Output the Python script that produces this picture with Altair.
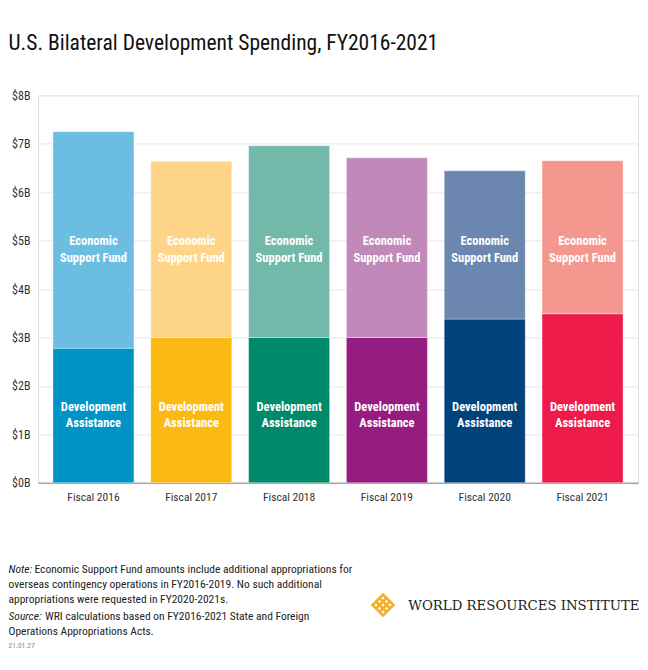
import altair as alt
import pandas as pd

# ---- data ----
years = ["Fiscal 2016", "Fiscal 2017", "Fiscal 2018", "Fiscal 2019", "Fiscal 2020", "Fiscal 2021"]
dev_assistance = [2.78, 3.00, 3.00, 3.00, 3.38, 3.49]
econ_support = [4.47, 3.64, 3.96, 3.71, 3.06, 3.16]
segments = ["Development Assistance", "Economic Support Fund"]
seg_labels = ["Development\nAssistance", "Economic\nSupport Fund"]
y_ticks = [0, 1, 2, 3, 4, 5, 6, 7, 8]

title_text = "U.S. Bilateral Development Spending, FY2016-2021"
note_lines = [
    "Economic Support Fund amounts include additional appropriations for",
    "overseas contingency operations in FY2016-2019. No such additional",
    "appropriations were requested in FY2020-2021s.",
]
source_lines = [
    "WRI calculations based on FY2016-2021 State and Foreign",
    "Operations Appropriations Acts.",
]
date_text = "21.01.27"
org_text = "WORLD RESOURCES INSTITUTE"

# colours: (DA, ESF) per year
da_colors = ["#0093C6", "#FDB913", "#00896A", "#951C80", "#00427A", "#EE1A4A"]
esf_colors = ["#6BBDE1", "#FED588", "#73B9AA", "#C189BA", "#6B87B0", "#F4978F"]

rows = []
for i, y in enumerate(years):
    rows.append({"year": y, "segment": segments[0], "label": seg_labels[0],
                 "y0": 0.0, "y1": dev_assistance[i], "key": y + "|DA"})
    rows.append({"year": y, "segment": segments[1], "label": seg_labels[1],
                 "y0": dev_assistance[i], "y1": dev_assistance[i] + econ_support[i], "key": y + "|ESF"})
df = pd.DataFrame(rows)

keys = []
cols = []
for i, y in enumerate(years):
    keys += [y + "|DA", y + "|ESF"]
    cols += [da_colors[i], esf_colors[i]]

FONT = "Roboto Condensed, Roboto, sans-serif"
W, H = 600, 387.5

xscale = alt.Scale(domain=years, paddingInner=0.172, paddingOuter=0.153)
yscale = alt.Scale(domain=[0, 8], nice=False)

base = alt.Chart(df)

bars = base.mark_bar(stroke="white", strokeWidth=1, strokeOpacity=0.35).encode(
    x=alt.X("year:N", scale=xscale, sort=years,
            axis=alt.Axis(title=None, labelAngle=0, ticks=False, labelPadding=9,
                          labelFontSize=11.5, labelColor="#333333", labelFont=FONT,
                          domainColor="#a8a8a8", domainWidth=1.5)),
    y=alt.Y("y0:Q", scale=yscale,
            axis=alt.Axis(title=None, values=y_ticks, labelExpr="'$' + datum.value + 'B'",
                          ticks=False, domain=False, labelPadding=8, labelFontSize=12,
                          labelColor="#333333", labelFont=FONT,
                          gridColor="#ebebeb", gridWidth=1.2)),
    y2="y1:Q",
    color=alt.Color("key:N", scale=alt.Scale(domain=keys, range=cols), legend=None),
)

lab_da = base.transform_filter(alt.datum.segment == segments[0]).mark_text(
    color="white", font=FONT, fontWeight="bold", fontSize=12.5, lineBreak="\n",
    lineHeight=16, baseline="middle", align="center"
).encode(x=alt.X("year:N", scale=xscale, sort=years), y=alt.value(312), text="label:N")

lab_esf = base.transform_filter(alt.datum.segment == segments[1]).mark_text(
    color="white", font=FONT, fontWeight="bold", fontSize=12.5, lineBreak="\n",
    lineHeight=16.5, baseline="middle", align="center"
).encode(x=alt.X("year:N", scale=xscale, sort=years), y=alt.value(146), text="label:N")

# ---- annotations (pixel positions relative to plot origin at page 38, 95.3) ----
ox, oy = 38, 95.3
ann = pd.DataFrame({"k": [0]})
def txt(text, px, py, size=11.5, style="normal", color="#222222", align="left", font=FONT, weight="normal"):
    return alt.Chart(ann).mark_text(
        text=text, font=font, fontSize=size, fontStyle=style, color=color,
        align=align, baseline="alphabetic", fontWeight=weight
    ).encode(x=alt.value(px - ox), y=alt.value(py - oy))

LX = 8.5
layers = [bars, lab_da, lab_esf]
layers.append(txt(title_text, LX, 49.5, size=21.5, color="#111111"))
layers.append(txt("Note:", LX, 572.5, style="italic"))
layers.append(txt(note_lines[0], LX + 26, 572.5))
layers.append(txt(note_lines[1], LX, 587.5))
layers.append(txt(note_lines[2], LX, 602.5))
layers.append(txt("Source:", LX, 620, style="italic"))
layers.append(txt(source_lines[0], LX + 36.5, 620))
layers.append(txt(source_lines[1], LX, 635))
layers.append(txt(date_text, LX, 648, size=7.5, color="#888888"))
layers.append(txt(org_text, 639.5, 609.5, size=13.3, color="#222222", align="right",
                  font="DejaVu Serif, Liberation Serif, serif"))

logo_path = ("M0,-1L1,0L0,1L-1,0Z"
             "M-0.333,-0.667L0.667,0.333M-0.667,-0.333L0.333,0.667"
             "M0.333,-0.667L-0.667,0.333M0.667,-0.333L-0.333,0.667")
logo = alt.Chart(ann).mark_point(
    shape=logo_path, filled=False, stroke="#F6AE2D", strokeWidth=2.6, size=440, opacity=1
).encode(x=alt.value(383 - ox), y=alt.value(605 - oy))
layers.append(logo)

chart = alt.layer(*layers).properties(
    width=W, height=H,
    autosize=alt.AutoSizeParams(type="none"),
    padding={"left": 30, "top": 87.3, "right": 2, "bottom": 179.2},
).configure_view(stroke=None).configure(background="white")

chart.save("out.html", embed_options={"renderer": "svg", "actions": False})
